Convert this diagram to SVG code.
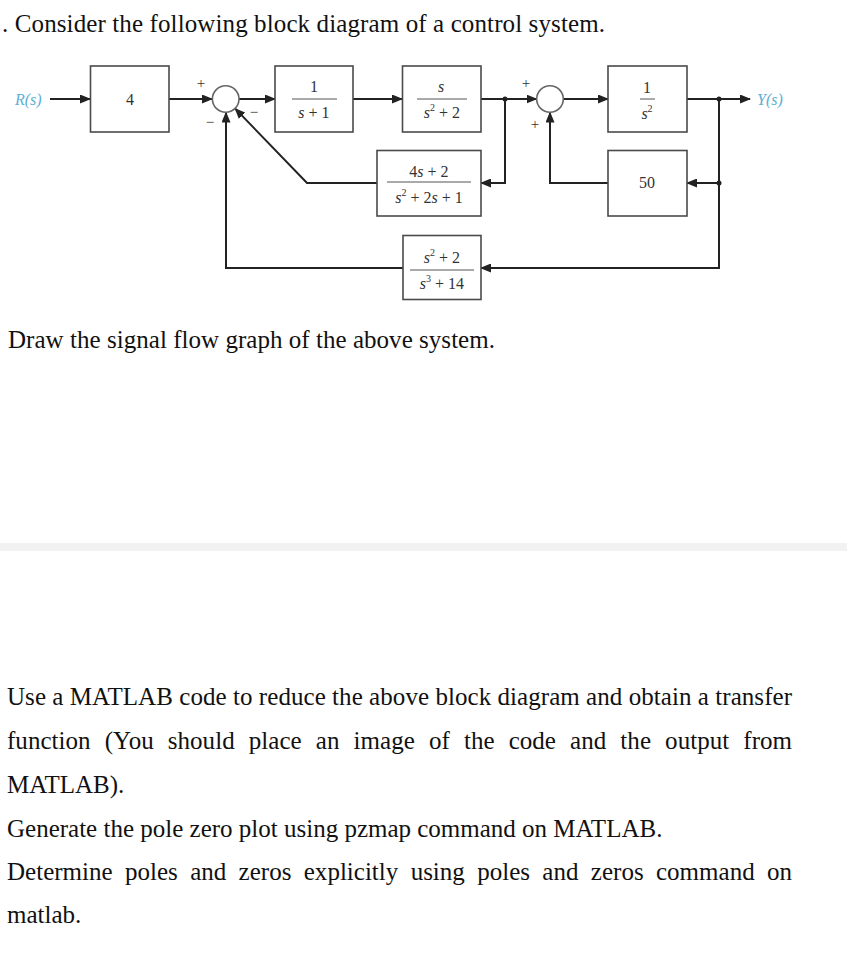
<svg xmlns="http://www.w3.org/2000/svg" width="847" height="974" viewBox="0 0 847 974">
<style>
.txt{font-family:"Liberation Serif","Times New Roman",serif;font-size:25px;fill:#111}
.box{fill:#fff;stroke:#4a4a4a;stroke-width:1.6}
.sum{fill:#fff;stroke:#666;stroke-width:1.6}
.bt{font-family:"Liberation Serif","Times New Roman",serif;font-size:16px;fill:#333;text-anchor:middle}
.it{font-style:italic}
.fl{stroke:#555;stroke-width:1}
.sig{font-family:"Liberation Serif","Times New Roman",serif;font-size:15px;fill:#333;text-anchor:middle}
.io{font-family:"Liberation Serif","Times New Roman",serif;font-size:16px;font-style:italic;fill:#5ab0d4}
.con{fill:none;stroke:#222;stroke-width:2}
</style>
<defs>
<marker id="ah" markerWidth="11" markerHeight="9" refX="10" refY="4.5" orient="auto" markerUnits="userSpaceOnUse">
<path d="M0,0 L11,4.5 L0,9 z" fill="#222"/>
</marker>
</defs>
<rect width="847" height="974" fill="#fff"/>
<text class="txt" x="2" y="32" textLength="603" lengthAdjust="spacing">. Consider the following block diagram of a control system.</text>

<g id="connectors">
<path class="con" d="M50,99 H90" marker-end="url(#ah)"/>
<path class="con" d="M169,99 H212" marker-end="url(#ah)"/>
<path class="con" d="M239,99 H275" marker-end="url(#ah)"/>
<path class="con" d="M353,99 H402" marker-end="url(#ah)"/>
<path class="con" d="M481,99 H536.5" marker-end="url(#ah)"/>
<path class="con" d="M505,99 V183 H481" marker-end="url(#ah)"/>
<path class="con" d="M377,183 H307 L235.2,108.6" marker-end="url(#ah)"/>
<path class="con" d="M563.3,99 H608" marker-end="url(#ah)"/>
<path class="con" d="M687,99 H750" marker-end="url(#ah)"/>
<path class="con" d="M719,99 V268 H481" marker-end="url(#ah)"/>
<path class="con" d="M719,183 H687" marker-end="url(#ah)"/>
<path class="con" d="M608,183 H550 V112.5" marker-end="url(#ah)"/>
<path class="con" d="M403,268 H226 V112.5" marker-end="url(#ah)"/>
<circle cx="505" cy="99" r="2.5" fill="#222"/>
<circle cx="719" cy="99" r="2.5" fill="#222"/>
<circle cx="719" cy="183" r="2.5" fill="#222"/>
</g>

<g id="R">
<text class="io" x="15" y="105">R(s)</text>
</g>
<g id="G4">
<rect class="box" x="90.5" y="66" width="78.5" height="66"/>
<text class="bt" x="130" y="105">4</text>
</g>
<g id="sum1">
<circle class="sum" cx="225.7" cy="99" r="13.3"/>
<text class="sig" x="201" y="88">+</text>
<text class="sig" x="210" y="127">−</text>
<text class="sig" x="254" y="117">−</text>
</g>
<g id="G1">
<rect class="box" x="275" y="66" width="78" height="66"/>
<text class="bt" x="314" y="92">1</text>
<line class="fl" x1="292" y1="99" x2="337" y2="99"/>
<text class="bt" x="314" y="118"><tspan class="it">s</tspan> + 1</text>
</g>
<g id="G2">
<rect class="box" x="402.5" y="66" width="78.5" height="66"/>
<text class="bt it" x="441" y="92">s</text>
<line class="fl" x1="417" y1="99" x2="467" y2="99"/>
<text class="bt" x="442" y="118"><tspan class="it">s</tspan><tspan font-size="10" dy="-7">2</tspan><tspan dy="7"> + 2</tspan></text>
</g>
<g id="H1">
<rect class="box" x="377" y="150.5" width="104" height="65.5"/>
<text class="bt" x="429" y="177">4<tspan class="it">s</tspan> + 2</text>
<line class="fl" x1="387" y1="182" x2="471" y2="182"/>
<text class="bt" x="429" y="203"><tspan class="it">s</tspan><tspan font-size="10" dy="-7">2</tspan><tspan dy="7"> + 2</tspan><tspan class="it">s</tspan> + 1</text>
</g>
<g id="H3">
<rect class="box" x="403" y="235.5" width="78" height="64"/>
<text class="bt" x="442" y="263"><tspan class="it">s</tspan><tspan font-size="10" dy="-7">2</tspan><tspan dy="7"> + 2</tspan></text>
<line class="fl" x1="410" y1="270" x2="474" y2="270"/>
<text class="bt" x="442" y="289"><tspan class="it">s</tspan><tspan font-size="10" dy="-7">3</tspan><tspan dy="7"> + 14</tspan></text>
</g>
<g id="sum2">
<circle class="sum" cx="550" cy="99" r="13.3"/>
<text class="sig" x="526" y="88">+</text>
<text class="sig" x="535" y="129">+</text>
</g>
<g id="G3">
<rect class="box" x="608" y="66" width="79" height="66"/>
<text class="bt" x="647" y="93">1</text>
<line class="fl" x1="640" y1="99" x2="655" y2="99"/>
<text class="bt" x="647" y="119"><tspan class="it">s</tspan><tspan font-size="10" dy="-7">2</tspan></text>
</g>
<g id="H2">
<rect class="box" x="608" y="150.5" width="79" height="65.5"/>
<text class="bt" x="647" y="188">50</text>
</g>
<g id="Y">
<text class="io" x="757" y="105">Y(s)</text>
</g>

<text class="txt" x="8" y="348" textLength="487" lengthAdjust="spacing">Draw the signal flow graph of the above system.</text>
<rect x="0" y="543" width="847" height="8" fill="#f2f2f2"/>
<text class="txt" x="7" y="705" textLength="785" lengthAdjust="spacing">Use a MATLAB code to reduce the above block diagram and obtain a transfer</text>
<text class="txt" x="7" y="749" word-spacing="7.8" textLength="785" lengthAdjust="spacing">function (You should place an image of the code and the output from</text>
<text class="txt" x="7" y="793">MATLAB).</text>
<text class="txt" x="7" y="837">Generate the pole zero plot using pzmap command on MATLAB.</text>
<text class="txt" x="7" y="880" word-spacing="6.1" textLength="785" lengthAdjust="spacing">Determine poles and zeros explicitly using poles and zeros command on</text>
<text class="txt" x="7" y="923">matlab.</text>
</svg>
